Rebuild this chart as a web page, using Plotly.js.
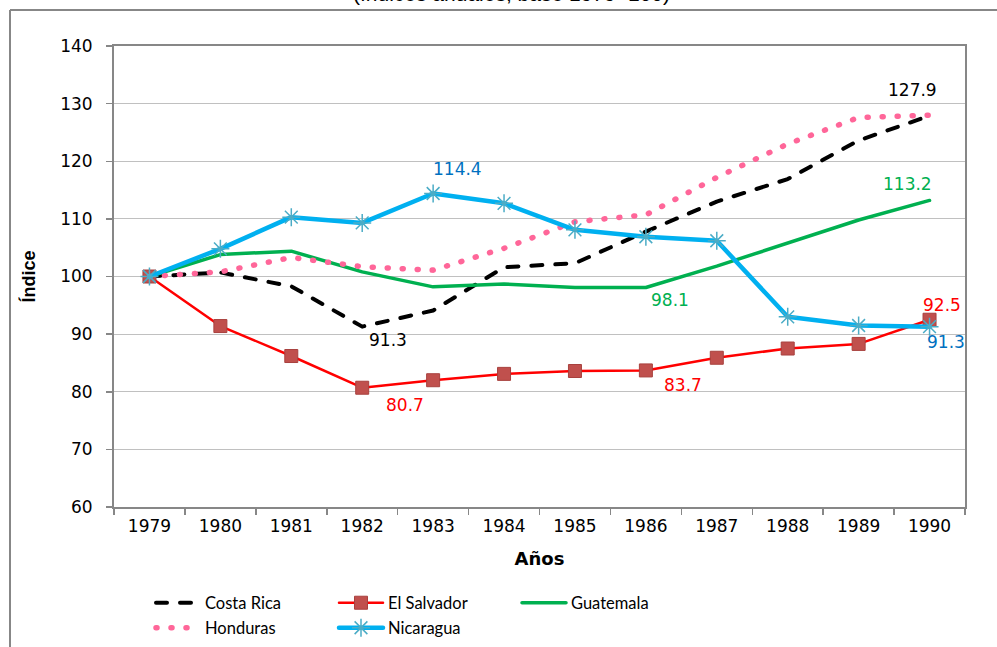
<!DOCTYPE html>
<html>
<head>
<meta charset="utf-8">
<script src="https://cdn.plot.ly/plotly-3.0.1.min.js"></script>
<style>
  html, body { margin: 0; padding: 0; background: #fff; }
  #chart { width: 997px; height: 647px; }
  .js-line { stroke-linecap: round; stroke-linejoin: round; }
</style>
</head>
<body>
<div id="chart"></div>
<script>
// ---- Data ----
const years = ['1979','1980','1981','1982','1983','1984','1985','1986','1987','1988','1989','1990'];
const costaRica  = [100, 100.7, 98.3, 91.3, 94.1, 101.6, 102.3, 107.8, 113.0, 116.9, 123.6, 127.9];
const elSalvador = [100, 91.4, 86.2, 80.7, 82.0, 83.1, 83.6, 83.7, 85.9, 87.5, 88.3, 92.5];
const guatemala  = [100, 103.8, 104.4, 100.8, 98.2, 98.7, 98.1, 98.1, 101.8, 105.8, 109.8, 113.2];
const honduras   = [100, 100.8, 103.3, 101.7, 101.1, 104.9, 109.5, 110.7, 117.2, 123.0, 127.6, 128.0];
const nicaragua  = [100, 104.8, 110.3, 109.3, 114.4, 112.7, 108.1, 106.9, 106.2, 93.0, 91.5, 91.3];
const seriesNames = ['Costa Rica', 'El Salvador', 'Guatemala', 'Honduras', 'Nicaragua'];
const yTicks = [60, 70, 80, 90, 100, 110, 120, 130, 140];
const titleText = '(índices anuales, base 1979=100)';
const xTitle = 'Años';
const yTitle = 'Índice';

// ---- Geometry helpers (layout only) ----
const W = 997, H = 647;
const M = {l: 114, r: 32, t: 46, b: 140, autoexpand: false};
const PW = W - M.l - M.r, PH = H - M.t - M.b;
const px2x = px => (px - M.l) / PW;
const py2y = py => (H - M.b - py) / PH;

const traces = [
  {name: seriesNames[0], x: years, y: costaRica, type: 'scatter', mode: 'lines',
   line: {color: '#000000', width: 4, dash: '11px,13px'}, legend: 'legend'},
  {name: seriesNames[1], x: years, y: elSalvador, type: 'scatter', mode: 'lines+markers',
   line: {color: '#ff0000', width: 2.5},
   marker: {symbol: 'square', size: 13, color: '#c0504d', line: {color: '#a8413e', width: 1}}, legend: 'legend'},
  {name: seriesNames[2], x: years, y: guatemala, type: 'scatter', mode: 'lines',
   line: {color: '#00b050', width: 3.5}, legend: 'legend'},
  {name: seriesNames[3], x: years, y: honduras, type: 'scatter', mode: 'lines',
   line: {color: '#ff6699', width: 5.5, dash: '1px,14px'}, legend: 'legend2'},
  {name: seriesNames[4], x: years, y: nicaragua, type: 'scatter', mode: 'lines+markers',
   line: {color: '#00b0f0', width: 4.5},
   marker: {symbol: 'asterisk-open', size: 15, color: '#4bacc6', line: {color: '#4bacc6', width: 1.5}}, legend: 'legend2'}
];

// Data labels: [series values, index, color, xshift, yshift]
const labelSpecs = [
  [costaRica, 11, '#000000', -17, 26],
  [costaRica, 3, '#000000', 26, -13],
  [nicaragua, 4, '#0070c0', 24, 25],
  [elSalvador, 3, '#ff0000', 43, -17],
  [guatemala, 7, '#00b050', 24, -13],
  [elSalvador, 7, '#ff0000', 37, -15],
  [guatemala, 11, '#00b050', -22, 16],
  [elSalvador, 11, '#ff0000', 12, 15],
  [nicaragua, 11, '#0070c0', 16, -15]
];

const annotations = labelSpecs.map(s => ({
  x: s[1], y: s[0][s[1]], xref: 'x', yref: 'y',
  text: s[0][s[1]].toFixed(1), showarrow: false,
  xshift: s[3], yshift: s[4],
  font: {family: 'DejaVu Sans', size: 17, color: s[2]}
}));

annotations.push({
  x: px2x(511), y: py2y(7), xref: 'paper', yref: 'paper',
  xanchor: 'center', yanchor: 'bottom', showarrow: false,
  text: titleText, font: {family: 'Liberation Sans', size: 21, color: '#000'}
});

const gray = '#878787';
const shapes = [
  {type: 'line', xref: 'paper', yref: 'paper', x0: px2x(10), x1: px2x(1000), y0: py2y(10), y1: py2y(10),
   line: {color: gray, width: 2}},
  {type: 'line', xref: 'paper', yref: 'paper', x0: px2x(10), x1: px2x(10), y0: py2y(10), y1: py2y(650),
   line: {color: gray, width: 2}}
];

const legendCommon = {
  orientation: 'h', xanchor: 'left', yanchor: 'middle',
  entrywidth: 124, entrywidthmode: 'pixels', itemwidth: 44,
  bgcolor: 'rgba(0,0,0,0)', borderwidth: 0,
  font: {family: 'Lato', size: 16.5, color: '#000'}
};

const layout = {
  width: W, height: H,
  margin: M,
  paper_bgcolor: '#ffffff', plot_bgcolor: '#ffffff',
  font: {family: 'DejaVu Sans', size: 16, color: '#000'},
  showlegend: true,
  legend: Object.assign({}, legendCommon, {x: px2x(151), y: py2y(603)}),
  legend2: Object.assign({}, legendCommon, {x: px2x(151), y: py2y(628)}),
  xaxis: {
    type: 'category', range: [-0.5, 11.5], tickson: 'boundaries',
    ticks: 'outside', ticklen: 6, tickcolor: gray, tickwidth: 1.5,
    showline: true, linecolor: gray, linewidth: 2, mirror: true,
    showgrid: false, zeroline: false,
    tickfont: {family: 'DejaVu Sans', size: 17, color: '#000'},
    ticklabelstandoff: 3,
    title: {text: xTitle, standoff: 17, font: {family: 'DejaVu Sans', size: 18, weight: 'bold', color: '#000'}}
  },
  yaxis: {
    range: [60, 140], tickvals: yTicks, ticktext: yTicks.map(String),
    ticks: 'outside', ticklen: 6, tickcolor: gray, tickwidth: 1.5,
    showline: true, linecolor: gray, linewidth: 2, mirror: true,
    showgrid: true, gridcolor: '#c0c0c0', gridwidth: 1, zeroline: false,
    tickfont: {family: 'DejaVu Sans', size: 17, color: '#000'},
    ticklabelstandoff: 10,
    title: {text: yTitle, standoff: 20, font: {family: 'Liberation Sans Narrow, Liberation Sans', size: 18, weight: 'bold', color: '#000'}}
  },
  annotations: annotations,
  shapes: shapes
};

Plotly.newPlot('chart', traces, layout, {displayModeBar: false, staticPlot: true});
</script>
</body>
</html>
